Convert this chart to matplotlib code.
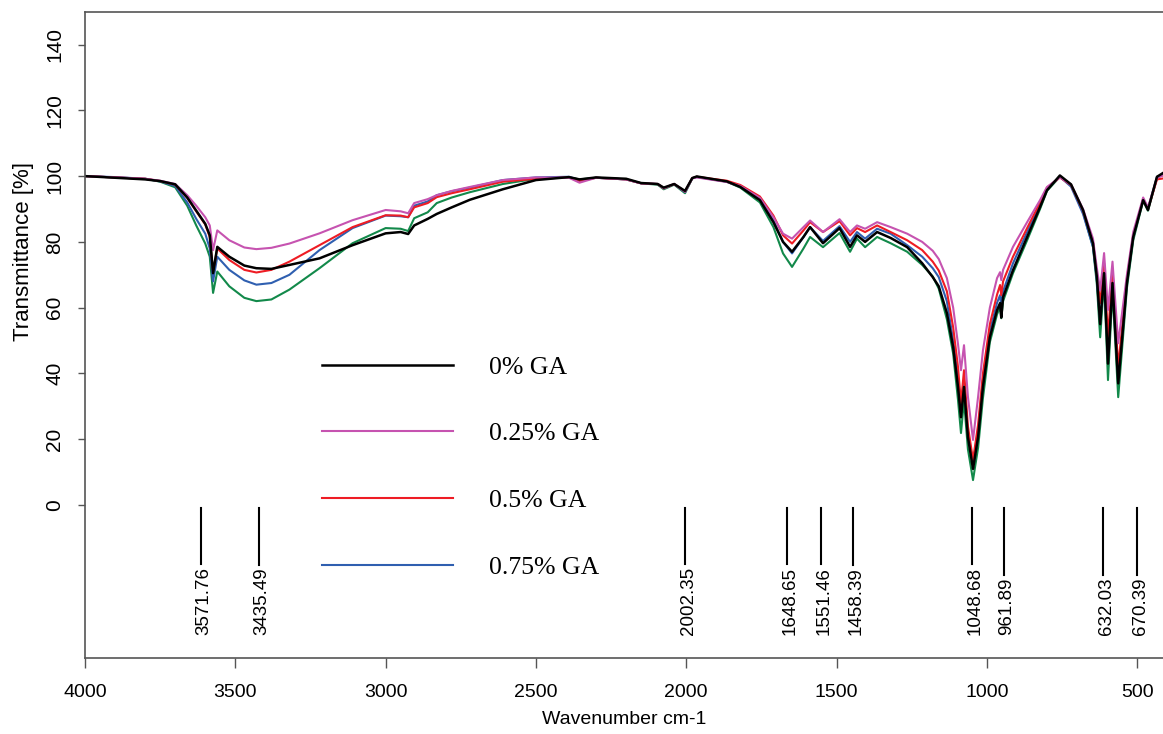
import matplotlib
matplotlib.use('Agg')
import matplotlib.pyplot as plt
from matplotlib.transforms import offset_copy

plt.rcParams['font.family'] = ['Liberation Sans', 'DejaVu Sans']

# wavenumber grid (cm-1) and transmittance (%)
wavenumber = [4000, 3900, 3800, 3750, 3700, 3660, 3630, 3600, 3585, 3574,
              3560, 3520, 3470, 3430, 3380, 3320, 3220, 3110, 3000, 2950,
              2925, 2905, 2860, 2830, 2780, 2720, 2610, 2500, 2390, 2355,
              2300, 2200, 2150, 2095, 2075, 2040, 2004, 1980, 1965, 1865,
              1820, 1755, 1710, 1678, 1648, 1610, 1588, 1545, 1490, 1455,
              1432, 1405, 1365, 1320, 1265, 1215, 1180, 1160, 1133, 1112,
              1096, 1086, 1076, 1063, 1046, 1029, 1013, 990, 966, 956,
              952, 946, 913, 866, 823, 800, 757, 720, 680, 647,
              634, 623, 610, 597, 582, 563, 534, 513, 480, 464, 434, 413]

ga_0 = [100, 99.5, 99.0, 98.5, 97.5, 93.5, 89.5, 85.5, 82.0, 70.5,
        78.5, 75.5, 72.8, 72.0, 71.8, 73.0, 75.0, 79.0, 82.6, 83.0,
        82.4, 85.0, 87.0, 88.5, 90.5, 92.8, 96.0, 98.8, 99.7, 99.0,
        99.6, 99.2, 97.9, 97.6, 96.5, 97.6, 95.5, 99.4, 99.9, 98.4,
        96.7, 92.7, 86.0, 80.0, 77.0, 81.5, 84.5, 79.6, 84.2, 78.5,
        82.0, 80.0, 83.0, 81.2, 78.4, 73.5, 69.3, 66.5, 58.4, 48.0,
        35.9, 26.7, 35.9, 20.7, 11.0, 20.7, 35.9, 51.0, 59.3, 61.4,
        57.0, 63.2, 71.4, 81.5, 90.6, 95.7, 100.2, 97.5, 89.7, 79.6,
        69.3, 55.0, 70.5, 43.0, 67.5, 37.0, 67.5, 81.5, 92.7, 89.7, 99.8, 101.0]

ga_025 = [100, 99.6, 99.2, 98.6, 97.6, 94.2, 91.0, 87.5, 85.0, 77.5,
          83.5, 80.5, 78.3, 77.8, 78.2, 79.5, 82.6, 86.6, 89.7, 89.3,
          88.7, 91.8, 93.0, 94.2, 95.5, 96.7, 98.8, 99.6, 99.5, 98.0,
          99.5, 99.0, 97.8, 97.6, 96.3, 97.6, 95.3, 99.3, 99.6, 98.2,
          97.0, 93.4, 87.5, 82.5, 81.0, 84.5, 86.5, 83.0, 86.9, 83.0,
          85.0, 84.0, 86.0, 84.5, 82.5, 80.0, 77.3, 74.8, 69.0, 60.0,
          49.0, 41.0, 48.6, 33.0, 19.8, 33.0, 47.0, 60.0, 69.0, 70.8,
          68.4, 71.5, 78.5, 86.0, 92.7, 96.7, 99.6, 97.5, 90.0, 81.0,
          72.0, 65.3, 76.6, 59.3, 74.0, 49.2, 70.0, 83.0, 93.5, 90.5, 99.5, 100.2]

ga_05 = [100, 99.6, 99.2, 98.5, 97.4, 93.4, 89.3, 85.3, 81.5, 71.0,
         78.0, 74.5, 71.5, 70.7, 71.5, 74.0, 79.0, 84.5, 88.1, 88.0,
         87.5, 90.5, 91.8, 93.6, 94.8, 96.0, 98.3, 99.2, 99.6, 98.5,
         99.5, 99.0, 97.8, 97.6, 96.3, 97.6, 95.3, 99.4, 99.8, 98.6,
         97.3, 93.8, 88.0, 82.0, 79.5, 83.5, 86.0, 83.0, 86.3, 82.0,
         84.2, 83.0, 85.0, 83.0, 80.5, 77.5, 74.0, 71.3, 65.0, 54.0,
         42.0, 31.0, 41.0, 24.0, 13.7, 24.5, 40.0, 55.0, 64.0, 66.9,
         63.8, 68.0, 75.5, 84.2, 92.0, 96.5, 99.6, 97.3, 89.5, 80.0,
         70.0, 61.4, 73.5, 51.0, 71.4, 42.0, 69.0, 82.0, 93.0, 90.0, 99.0, 99.3]

ga_075 = [100, 99.7, 99.2, 98.4, 97.0, 92.0, 87.0, 82.5, 78.0, 68.0,
          75.5, 71.5, 68.3, 67.0, 67.5, 70.0, 77.5, 84.2, 88.0, 87.8,
          87.5, 91.0, 92.3, 94.2, 95.4, 96.5, 98.8, 99.6, 99.8, 98.8,
          99.5, 99.0, 97.8, 97.6, 96.3, 97.6, 95.1, 99.4, 99.7, 98.3,
          96.8, 93.0, 86.5, 80.0, 76.5, 81.5, 84.5, 80.3, 84.8, 80.0,
          83.0, 81.0, 84.0, 82.5, 79.0, 75.5, 72.0, 69.3, 62.0, 50.0,
          38.5, 28.9, 38.0, 22.0, 12.8, 22.5, 38.0, 53.0, 61.5, 63.8,
          60.2, 65.0, 73.5, 83.0, 91.5, 96.2, 99.8, 96.8, 88.5, 78.5,
          68.5, 56.0, 70.5, 45.0, 68.4, 39.0, 68.0, 81.5, 93.0, 90.0, 99.8, 100.5]

ga_1 = [100, 99.6, 99.2, 98.3, 96.6, 91.0, 85.0, 79.5, 75.5, 64.5,
        71.0, 66.5, 63.0, 62.0, 62.5, 65.5, 72.0, 79.6, 84.2, 84.0,
        83.3, 87.2, 89.0, 91.8, 93.5, 95.1, 97.6, 99.2, 99.6, 99.0,
        99.5, 99.0, 97.8, 97.4, 96.0, 97.4, 94.8, 99.3, 99.8, 98.3,
        96.5, 92.0, 84.5, 76.5, 72.4, 78.0, 81.5, 78.4, 82.7, 77.0,
        81.0, 78.4, 81.5, 79.6, 77.0, 73.0, 69.5, 65.8, 56.5, 46.0,
        32.0, 21.9, 31.9, 17.0, 7.6, 17.5, 32.5, 49.5, 58.0, 60.2,
        56.8, 62.0, 70.5, 80.5, 90.0, 95.5, 99.8, 97.3, 89.0, 78.5,
        67.0, 51.0, 68.4, 38.0, 65.3, 32.8, 66.0, 80.5, 92.5, 89.5, 99.5, 100.5]

peak_text = ['3571.76', '3435.49', '2002.35', '1648.65', '1551.46',
             '1458.39', '1048.68', '961.89', '632.03', '670.39']
peak_pos = [3614, 3421, 2004, 1665, 1552, 1445, 1049, 943, 613, 500]

fig = plt.figure(figsize=(11.63, 7.34), dpi=100)
ax = fig.add_axes([0.0731, 0.1035, 0.9269, 0.8802])

ax.plot(wavenumber, ga_1, color='#12894a', lw=1.5, label='_nolegend_')
l4, = ax.plot(wavenumber, ga_075, color='#2f5fb0', lw=1.5, label='0.75% GA')
l3, = ax.plot(wavenumber, ga_05, color='#ee1c24', lw=1.5, label='0.5% GA')
l2, = ax.plot(wavenumber, ga_025, color='#c653b0', lw=1.5, label='0.25% GA')
l1, = ax.plot(wavenumber, ga_0, color='black', lw=1.8, label='0% GA')

ax.set_xlim(4000, 414)
ax.set_ylim(-46.5, 149.9)
ax.set_xticks([4000, 3500, 3000, 2500, 2000, 1500, 1000, 500])
ax.set_yticks([0, 20, 40, 60, 80, 100, 120, 140])
ax.tick_params(axis='x', direction='out', length=7, width=1, pad=12,
               labelsize=14, color='#555555')
ax.tick_params(axis='y', direction='out', length=5, width=1, pad=10,
               labelsize=15, color='#555555')
for lab in ax.get_yticklabels():
    lab.set_rotation(90)
    lab.set_va('center')

for s in ['left', 'bottom', 'top']:
    ax.spines[s].set_color('#555555')
    ax.spines[s].set_linewidth(1.2)
ax.spines['right'].set_visible(False)

ax.set_xlabel('Wavenumber cm-1', fontsize=14, labelpad=7)
ax.set_ylabel('Transmittance [%]', fontsize=16)
ax.yaxis.set_label_coords(-0.047, 0.63)

leg = ax.legend(handles=[l1, l2, l3, l4], loc='upper left',
                bbox_to_anchor=(0.22, 0.468), frameon=False,
                prop={'family': 'Liberation Serif', 'size': 18.5},
                handlelength=5.1, handletextpad=1.4, labelspacing=1.7,
                borderpad=0, borderaxespad=0)

# peak labels with marker lines
trans = offset_copy(ax.transData, fig=fig, x=3, y=0, units='dots')
texts = []
for txt, pos in zip(peak_text, peak_pos):
    t = ax.text(pos, -39.5, txt, rotation=90, ha='center', va='bottom',
                fontsize=13.5, transform=trans)
    texts.append(t)

fig.canvas.draw()
renderer = fig.canvas.get_renderer()
inv = ax.transData.inverted()
for t, pos in zip(texts, peak_pos):
    bb = t.get_window_extent(renderer)
    top = inv.transform((0, bb.y1))[1]
    ax.plot([pos, pos], [-0.9, top + 0.8], color='black', lw=1.5)

fig.savefig('out.png', dpi=100)
